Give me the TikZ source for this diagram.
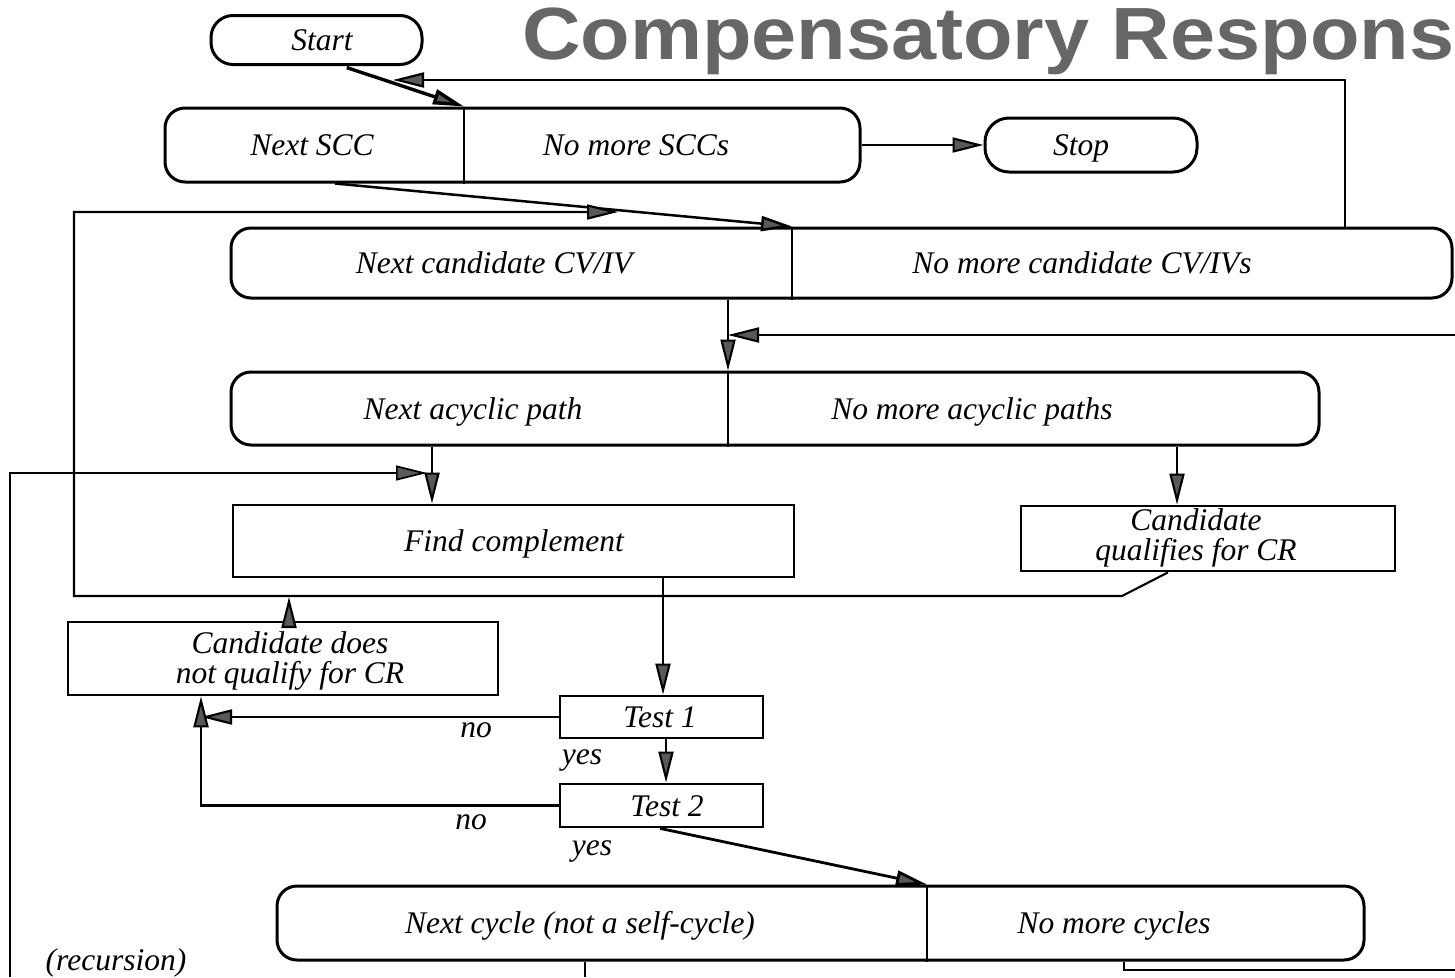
\documentclass[tikz,border=0pt]{standalone}
\usepackage{fontspec}
\usepackage{graphicx}
\setmainfont{Liberation Serif}
\newfontfamily\titlefont{Liberation Sans}
\usetikzlibrary{arrows.meta}
\begin{document}
\begin{tikzpicture}[x=1pt,y=-1pt,
  rbox/.style={draw, line width=3pt, rounded corners=20pt, inner sep=0pt},
  sbox/.style={draw, line width=2.8pt, inner sep=0pt},
  txt/.style={font=\fontsize{31.5}{30}\selectfont\itshape, inner sep=0pt, anchor=base},
  mtxt/.style={font=\fontsize{31.5}{30}\selectfont\itshape, inner sep=0pt, align=center},
  conn/.style={line width=2.1pt, -{Triangle[length=31pt,width=15pt,fill=black!65]}},
  plainline/.style={line width=1.8pt},
  divider/.style={line width=2.2pt},
  ]
\useasboundingbox (0,0) rectangle (1455,977);

% title
\node[anchor=base west, inner sep=0pt, text=black!60] (title) at (522,59)
  {\scalebox{1.095}[1]{\titlefont\bfseries\fontsize{74}{80}\selectfont Compensatory Respons}};

% boxes
\node[rbox, rounded corners=22pt, minimum width=211pt, minimum height=49pt] (start) at (316.5,40) {};
\node[rbox, minimum width=695pt, minimum height=74pt] (scc) at (512.5,145) {};
\node[rbox, rounded corners=24pt, minimum width=212pt, minimum height=54pt] (stop) at (1091,145) {};
\node[rbox, minimum width=1221pt, minimum height=70pt] (cand) at (841.5,263) {};
\node[rbox, minimum width=1088pt, minimum height=73pt] (acyc) at (775,408.5) {};
\node[sbox, minimum width=561pt, minimum height=72pt] (findc) at (513.5,541) {};
\node[sbox, minimum width=374pt, minimum height=65pt] (qual) at (1208,538.5) {};
\node[sbox, minimum width=430pt, minimum height=73pt] (notq) at (283,658.5) {};
\node[sbox, minimum width=203pt, minimum height=42pt] (test1) at (661.5,717) {};
\node[sbox, minimum width=203pt, minimum height=43pt] (test2) at (661.5,805.5) {};
\node[rbox, minimum width=1087pt, minimum height=74pt] (cyc) at (820.5,923) {};

% dividers
\coordinate (sccdiv) at (464,0);
\coordinate (canddiv) at (792,0);
\coordinate (acycdiv) at (728,0);
\coordinate (cycdiv) at (927,0);
\draw[divider] (scc.north -| sccdiv) -- (scc.south -| sccdiv);
\draw[divider] (cand.north -| canddiv) -- (cand.south -| canddiv);
\draw[divider] (acyc.north -| acycdiv) -- (acyc.south -| acycdiv);
\draw[divider] (cyc.north -| cycdiv) -- (cyc.south -| cycdiv);

% texts
\node[txt] (tstart) at (322,50.5) {Start};
\node[txt] (tscc1) at (312,155.5) {Next SCC};
\node[txt] (tscc2) at (636,155.5) {No more SCCs};
\node[txt] (tstop) at (1081,155.5) {Stop};
\node[txt] (tcand1) at (494,273.5) {Next candidate CV/IV};
\node[txt] (tcand2) at (1082,273.5) {No more candidate CV/IVs};
\node[txt] (tacyc1) at (473,419) {Next acyclic path};
\node[txt] (tacyc2) at (972,419) {No more acyclic paths};
\node[txt] (tfind) at (514,551.5) {Find complement};
\node[mtxt] (tqual) at (1196,538) {Candidate\\qualifies for CR};
\node[mtxt] (tnotq) at (290,660.5) {Candidate does\\not qualify for CR};
\node[txt] (tt1) at (660,727.5) {Test 1};
\node[txt] (tt2) at (667,816) {Test 2};
\node[txt] (tcyc1) at (580,933.5) {Next cycle (not a self-cycle)};
\node[txt] (tcyc2) at (1114,933.5) {No more cycles};
\node[txt] (no1) at (476,737) {no};
\node[txt] (yes1) at (582,764) {yes};
\node[txt] (no2) at (471,829) {no};
\node[txt] (yes2) at (592,855) {yes};
\node[txt] (trec) at (116,970) {(recursion)};

% helper coordinates
\coordinate (xA) at (342,0);
\coordinate (xB) at (335,0);
\coordinate (qa) at (1168,0);
\coordinate (lp1) at (1122,596);
\coordinate (lp2) at (74,596);
\coordinate (lp3) at (74,212);
\coordinate (lpend) at (618,212);
\coordinate (nq) at (289,597);
\coordinate (fb1) at (1345,80);
\coordinate (fb2) at (393,80);
\coordinate (rin) at (1455,335);
\coordinate (x432) at (432,0);
\coordinate (rc0) at (10,977);
\coordinate (rc1) at (10,473);
\coordinate (rc2) at (427,473);
\coordinate (x1177) at (1177,0);
\coordinate (x663) at (663,0);
\coordinate (x201) at (201,0);
\coordinate (x666) at (666,0);
\coordinate (x660) at (660,0);
\coordinate (x585) at (585,0);
\coordinate (bot) at (0,977);
\coordinate (x1124) at (1124,0);
\coordinate (ce) at (1455,970);

% connectors
\draw[conn, line width=3.4pt, shorten <=5pt] (start.south -| xA) -- (scc.north -| sccdiv);
\draw[conn] (scc.east) -- (stop.west);
\draw[conn, line width=2.5pt] (scc.south -| xB) -- (cand.north -| canddiv);
\draw[conn] (qual.south -| qa) -- (lp1) -- (lp2) -- (lp3) -- (lpend);
\draw[conn] (notq.north -| nq) -- (nq);
\draw[conn] (cand.north -| fb1) -- (fb1) -- (fb2);
\draw[conn] (cand.south -| acycdiv) -- (acyc.north -| acycdiv);
\draw[conn] (rin) -- (rin -| acycdiv);
\draw[conn] (acyc.south -| x432) -- (findc.north -| x432);
\draw[conn, line width=1.7pt] (rc0) -- (rc1) -- (rc2);
\draw[conn] (acyc.south -| x1177) -- (qual.north -| x1177);
\draw[conn] (findc.south -| x663) -- (test1.north -| x663);
\draw[conn] (test1.west) -- (test1.west -| x201);
\draw[conn] (test2.west) -- (test2.west -| x201) -- (notq.south -| x201);
\draw[conn] (test1.south -| x666) -- (test2.north -| x666);
\draw[conn, line width=2.8pt] (test2.south -| x660) -- (cyc.north -| cycdiv);
\draw[plainline] (cyc.south -| x585) -- (bot -| x585);
\draw[plainline] (cyc.south -| x1124) -- (ce -| x1124) -- (ce);
\end{tikzpicture}
\end{document}
